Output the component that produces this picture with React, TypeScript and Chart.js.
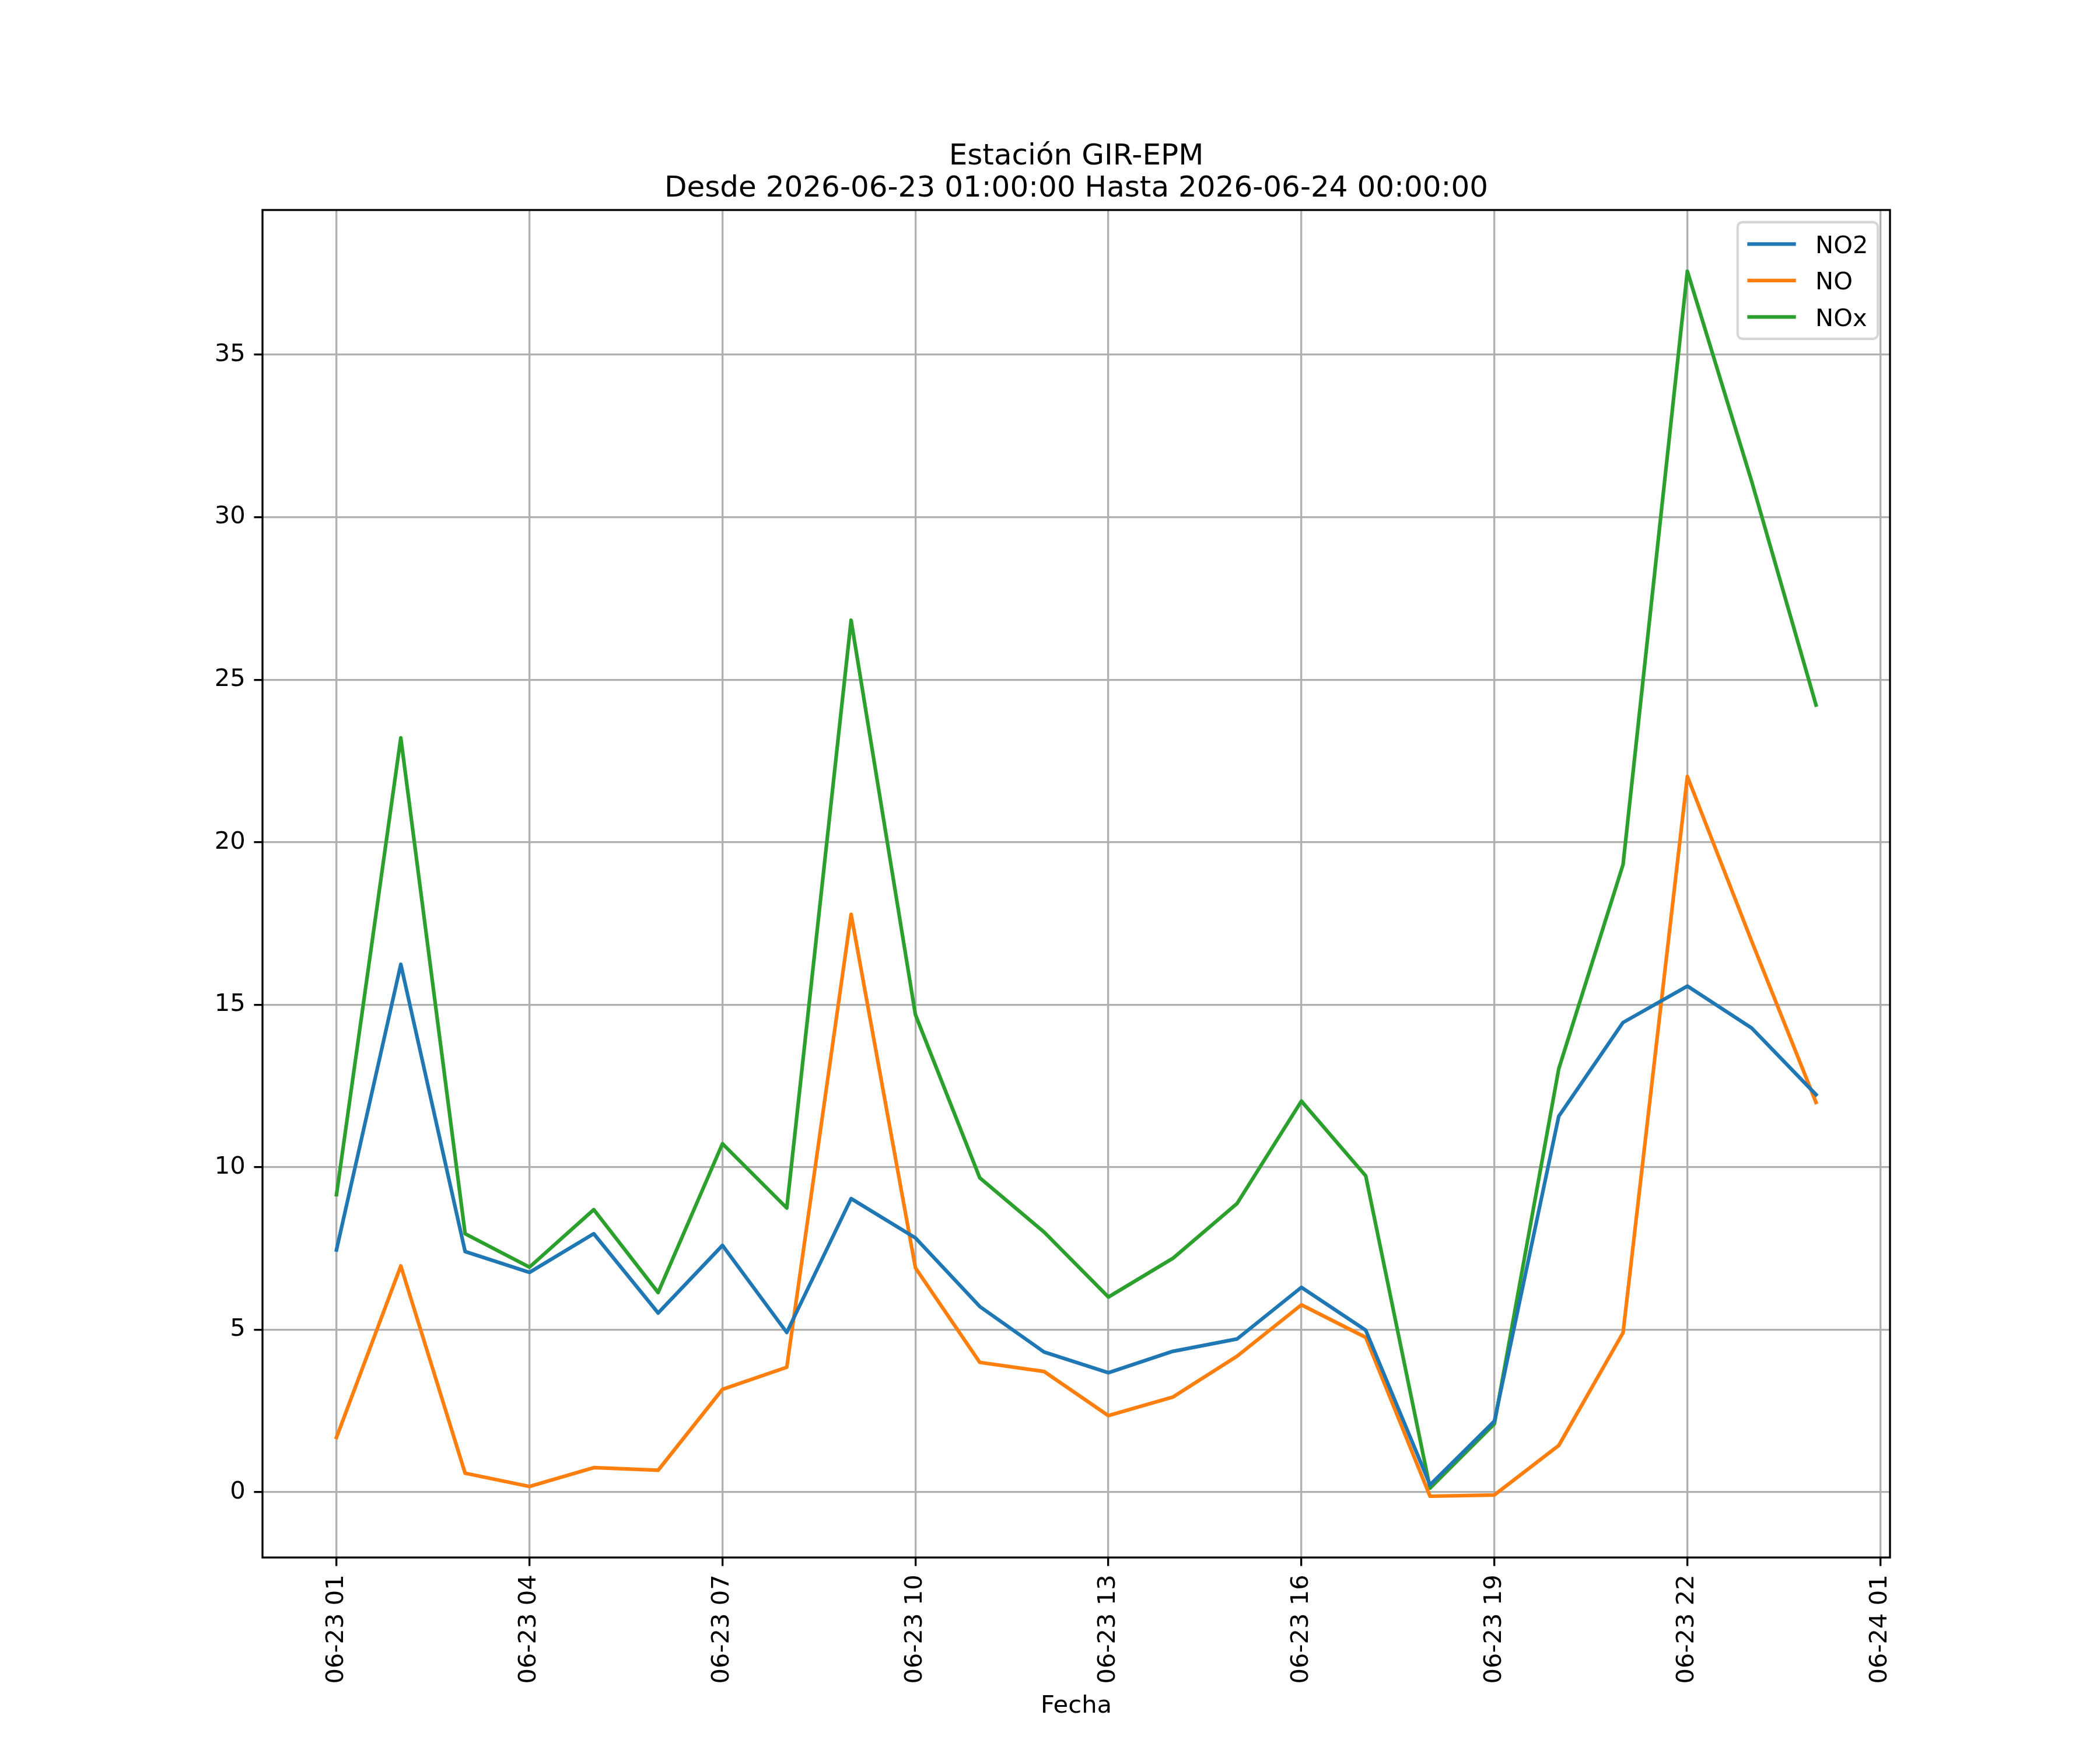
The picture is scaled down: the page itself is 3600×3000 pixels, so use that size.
import React, { useEffect, useRef } from 'react';
import { Chart, registerables } from 'chart.js';

Chart.register(...registerables);

// hourly timestamps, 06-23 01:00 .. 06-24 00:00
const timestamps = [
  '06-23 01', '06-23 02', '06-23 03', '06-23 04', '06-23 05', '06-23 06',
  '06-23 07', '06-23 08', '06-23 09', '06-23 10', '06-23 11', '06-23 12',
  '06-23 13', '06-23 14', '06-23 15', '06-23 16', '06-23 17', '06-23 18',
  '06-23 19', '06-23 20', '06-23 21', '06-23 22', '06-23 23', '06-24 00',
];

const no2 = [7.45, 16.24, 7.40, 6.76, 7.95, 5.51, 7.59, 4.91, 9.03, 7.82, 5.71, 4.31,
  3.67, 4.33, 4.71, 6.30, 4.98, 0.22, 2.18, 11.56, 14.45, 15.57, 14.28, 12.23];
const no = [1.68, 6.96, 0.58, 0.17, 0.75, 0.67, 3.16, 3.84, 17.78, 6.90, 3.99, 3.71,
  2.35, 2.92, 4.18, 5.76, 4.76, -0.13, -0.09, 1.43, 4.90, 22.02, 16.95, 11.99];
const nox = [9.15, 23.21, 7.95, 6.92, 8.69, 6.14, 10.72, 8.74, 26.83, 14.69, 9.67, 8.00,
  6.00, 7.19, 8.88, 12.03, 9.73, 0.12, 2.10, 13.02, 19.31, 37.57, 31.10, 24.22];

const seriesLabels = ['NO2', 'NO', 'NOx'];
const seriesColors = ['#1f77b4', '#ff7f0e', '#2ca02c'];

// hour offsets from 06-23 01 where the x ticks sit
const xTickHours = [0, 3, 6, 9, 12, 15, 18, 21, 24];
const xTickLabels = ['06-23 01', '06-23 04', '06-23 07', '06-23 10', '06-23 13',
  '06-23 16', '06-23 19', '06-23 22', '06-24 01'];
const yTickValues = [0, 5, 10, 15, 20, 25, 30, 35];

const titleLines = ['Estación GIR-EPM', 'Desde 2026-06-23 01:00:00 Hasta 2026-06-24 00:00:00'];
const xAxisTitle = 'Fecha';

const FONT = '"DejaVu Sans", sans-serif';
const PT = 300 / 72;

const App: React.FC = () => {
  const canvasRef = useRef<HTMLCanvasElement>(null);

  useEffect(() => {
    if (!canvasRef.current) return;

    // matplotlib-like 5% margins
    const all = [...no2, ...no, ...nox];
    const yMinData = Math.min(...all);
    const yMaxData = Math.max(...all);
    const yPad = (yMaxData - yMinData) * 0.05;
    const xPad = (timestamps.length - 1) * 0.05;

    const toPoints = (arr: number[]) => arr.map((v, i) => ({ x: i, y: v }));

    const decor = {
      id: 'decor',
      afterDatasetsDraw(chart: any) {
        const { ctx, chartArea: a } = chart;
        ctx.save();
        // frame
        ctx.strokeStyle = '#000';
        ctx.lineWidth = 0.8 * PT;
        ctx.strokeRect(a.left, a.top, a.right - a.left, a.bottom - a.top);

        // title
        ctx.fillStyle = '#000';
        ctx.textAlign = 'center';
        ctx.textBaseline = 'alphabetic';
        ctx.font = `${12 * PT}px ${FONT}`;
        const cx = (a.left + a.right) / 2;
        ctx.fillText(titleLines[0], cx, 282);
        ctx.fillText(titleLines[1], cx, 337);

        // x label
        ctx.font = `${10 * PT}px ${FONT}`;
        ctx.fillText(xAxisTitle, cx, 2936);

        // legend
        const fs = 10 * PT;
        ctx.font = `${fs}px ${FONT}`;
        const textW = Math.max(...seriesLabels.map(l => ctx.measureText(l).width));
        const pad = 0.4 * fs;
        const handleLen = 2 * fs;
        const handlePad = 0.8 * fs;
        const rowH = fs;
        const spacing = 0.5 * fs;
        const w = pad * 2 + handleLen + handlePad + textW;
        const h = pad * 2 + rowH * 3 + spacing * 2;
        const right = a.right - 0.5 * fs;
        const top = a.top + 0.5 * fs;
        const left = right - w;
        const r = 0.2 * fs;
        ctx.beginPath();
        ctx.roundRect(left, top, w, h, r);
        ctx.fillStyle = 'rgba(255,255,255,0.8)';
        ctx.fill();
        ctx.strokeStyle = '#d6d6d6';
        ctx.lineWidth = 1 * PT;
        ctx.stroke();
        ctx.textAlign = 'left';
        seriesLabels.forEach((lab, i) => {
          const cy = top + pad + rowH / 2 + i * (rowH + spacing);
          ctx.strokeStyle = seriesColors[i];
          ctx.lineWidth = 1.5 * PT;
          ctx.lineCap = 'butt';
          ctx.beginPath();
          ctx.moveTo(left + pad, cy);
          ctx.lineTo(left + pad + handleLen, cy);
          ctx.stroke();
          ctx.fillStyle = '#000';
          ctx.fillText(lab, left + pad + handleLen + handlePad, cy + 0.729 * fs / 2);
        });
        ctx.restore();
      },
    };

    const chart = new Chart(canvasRef.current, {
      type: 'line',
      data: {
        datasets: [no2, no, nox].map((arr, i) => ({
          label: seriesLabels[i],
          data: toPoints(arr),
          borderColor: seriesColors[i],
          backgroundColor: seriesColors[i],
          borderWidth: 1.5 * PT,
          borderJoinStyle: 'round' as const,
          borderCapStyle: 'square' as const,
          pointRadius: 0,
          tension: 0,
          fill: false,
        })),
      },
      options: {
        animation: false,
        responsive: false,
        devicePixelRatio: 1,
        layout: { padding: { left: 0, top: 360, right: 360, bottom: 0 } },
        plugins: {
          legend: { display: false },
          title: { display: false },
          tooltip: { enabled: false },
        },
        scales: {
          x: {
            type: 'linear',
            min: -xPad,
            max: timestamps.length - 1 + xPad,
            afterBuildTicks: (s: any) => { s.ticks = xTickHours.map(v => ({ value: v })); },
            afterFit: (s: any) => { s.height = 330; },
            ticks: {
              autoSkip: false,
              minRotation: 90,
              maxRotation: 90,
              padding: 3.5 * PT,
              color: '#000',
              font: { family: FONT, size: 10 * PT },
              callback: (_v: any, idx: number) => xTickLabels[idx],
            },
            grid: {
              color: '#b0b0b0',
              lineWidth: 0.8 * PT,
              drawTicks: true,
              tickLength: 3.5 * PT,
              tickColor: '#000',
              tickWidth: 0.8 * PT,
            },
            border: { display: false },
          },
          y: {
            type: 'linear',
            min: yMinData - yPad,
            max: yMaxData + yPad,
            afterBuildTicks: (s: any) => { s.ticks = yTickValues.map(v => ({ value: v })); },
            afterFit: (s: any) => { s.width = 450; },
            ticks: {
              padding: 3.5 * PT,
              color: '#000',
              font: { family: FONT, size: 10 * PT },
              callback: (v: any) => String(v),
            },
            grid: {
              color: '#b0b0b0',
              lineWidth: 0.8 * PT,
              drawTicks: true,
              tickLength: 3.5 * PT,
              tickColor: '#000',
              tickWidth: 0.8 * PT,
            },
            border: { display: false },
          },
        },
      },
      plugins: [decor],
    });

    return () => { chart.destroy(); };
  }, []);

  return (
    <div style={{ position: 'absolute', left: 0, top: 0, width: 3600, height: 3000, background: '#fff' }}>
      <canvas ref={canvasRef} width={3600} height={3000} style={{ width: 3600, height: 3000 }} />
    </div>
  );
};

export default App;
